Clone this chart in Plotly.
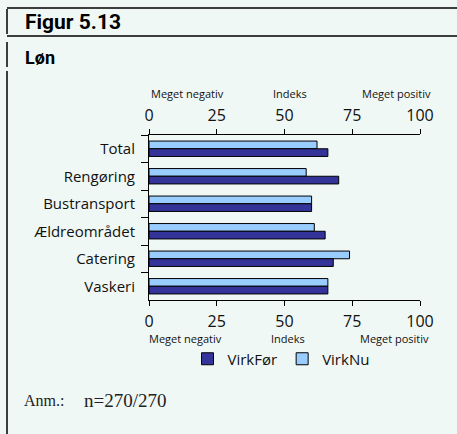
import plotly.graph_objects as go

categories = ["Total", "Rengøring", "Bustransport", "Ældreområdet", "Catering", "Vaskeri"]
virk_for = [66, 70, 60, 65, 68, 66]
virk_nu = [62, 58, 60, 61, 74, 66]
tick_vals = [0, 25, 50, 75, 100]
tick_text = ["0", "25", "50", "75", "100"]
scale_labels = ["Meget negativ", "Indeks", "Meget positiv"]
series_names = ["VirkFør", "VirkNu"]
title_text = "Figur 5.13"
subtitle_text = "Løn"
note_label = "Anm.:"
note_value = "n=270/270"

W, H = 457, 434


def px(x):
    return x / W


def py(y):
    return 1 - y / H


BG = "#F0F8F5"
FONT = "Open Sans"
DARK = "#333399"
LIGHT = "#99CCFF"

fig = go.Figure()
fig.add_trace(go.Bar(
    y=categories, x=virk_nu, name=series_names[1], orientation="h",
    marker=dict(color=LIGHT, line=dict(color="black", width=1)),
))
fig.add_trace(go.Bar(
    y=categories, x=virk_for, name=series_names[0], orientation="h",
    marker=dict(color=DARK, line=dict(color="black", width=1)),
))
# invisible helper so the top (mirrored) value axis is drawn
fig.add_trace(go.Scatter(
    x=[tick_vals[0], tick_vals[-1]], y=[categories[0], categories[0]],
    xaxis="x2", yaxis="y", mode="markers", marker=dict(opacity=0),
    showlegend=False, hoverinfo="skip",
))

axis_common = dict(
    range=[0, 100], tickmode="array", tickvals=tick_vals, ticktext=tick_text,
    ticks="outside", ticklen=5, tickcolor="black", tickwidth=1,
    showline=True, linecolor="black", linewidth=1,
    showgrid=False, zeroline=False, automargin=False,
    tickfont=dict(family=FONT, size=16, color="#111"),
    fixedrange=True,
)

fig.update_layout(
    width=W, height=H,
    margin=dict(l=0, r=0, t=0, b=0),
    paper_bgcolor=BG, plot_bgcolor=BG,
    barmode="group", bargap=0.44, bargroupgap=0,
    font=dict(family=FONT, color="#111"),
    xaxis=dict(domain=[px(149), px(420)], anchor="y", side="bottom",
               ticklabelstandoff=2, **axis_common),
    xaxis2=dict(domain=[px(149), px(420)], anchor="y", side="top",
                overlaying="x", ticklabelstandoff=2, **axis_common),
    yaxis=dict(domain=[py(300), py(135)], autorange="reversed",
               showline=True, linecolor="black", linewidth=1,
               ticks="outside", tickson="boundaries", ticklen=7,
               tickcolor="black", showgrid=False, zeroline=False,
               automargin=False, ticklabelstandoff=10, fixedrange=True,
               tickfont=dict(family=FONT, size=15, color="#111")),
    legend=dict(orientation="h", x=px(281), xanchor="center",
                y=py(359), yanchor="middle", traceorder="reversed",
                font=dict(family=FONT, size=15, color="#111"),
                bgcolor="rgba(0,0,0,0)", itemwidth=30),
    showlegend=True,
)

ann = []
ann.append(dict(text=f"<b>{title_text}</b>", x=px(23), y=py(22), xref="paper", yref="paper",
                xanchor="left", yanchor="middle", showarrow=False,
                font=dict(family="Roboto", size=21, color="#000")))
ann.append(dict(text=f"<b>{subtitle_text}</b>", x=px(23), y=py(57), xref="paper", yref="paper",
                xanchor="left", yanchor="middle", showarrow=False,
                font=dict(family="Roboto", size=18, color="#000")))
ann.append(dict(text=note_label, x=px(22), y=py(400), xref="paper", yref="paper",
                xanchor="left", yanchor="middle", showarrow=False,
                font=dict(family="Liberation Serif", size=16, color="#222")))
ann.append(dict(text=note_value, x=px(82), y=py(400), xref="paper", yref="paper",
                xanchor="left", yanchor="middle", showarrow=False,
                font=dict(family="Liberation Serif", size=19, color="#222")))
for yy, xs in ((93, (149, 290, 433)), (338, (147, 288, 431))):
    for lab, xx, anc in zip(scale_labels, xs, ("left", "center", "right")):
        ann.append(dict(text=lab, x=px(xx), y=py(yy), xref="paper", yref="paper",
                        xanchor=anc, yanchor="middle", showarrow=False,
                        font=dict(family=FONT, size=11, color="#111")))
fig.update_layout(annotations=ann)

shapes = []
line = dict(color="black", width=1.5)
for yy in (8, 36):
    shapes.append(dict(type="line", xref="paper", yref="paper",
                       x0=px(7), x1=1, y0=py(yy), y1=py(yy), line=line))
for y0, y1 in ((9, 34), (42, 67), (71, 434)):
    shapes.append(dict(type="line", xref="paper", yref="paper",
                       x0=px(7), x1=px(7), y0=py(y0), y1=py(y1), line=line))
fig.update_layout(shapes=shapes)

fig.write_html(
    "out.html",
    config={"displayModeBar": False},
    post_script="document.body.style.margin='0';document.body.style.overflow='hidden';",
)
